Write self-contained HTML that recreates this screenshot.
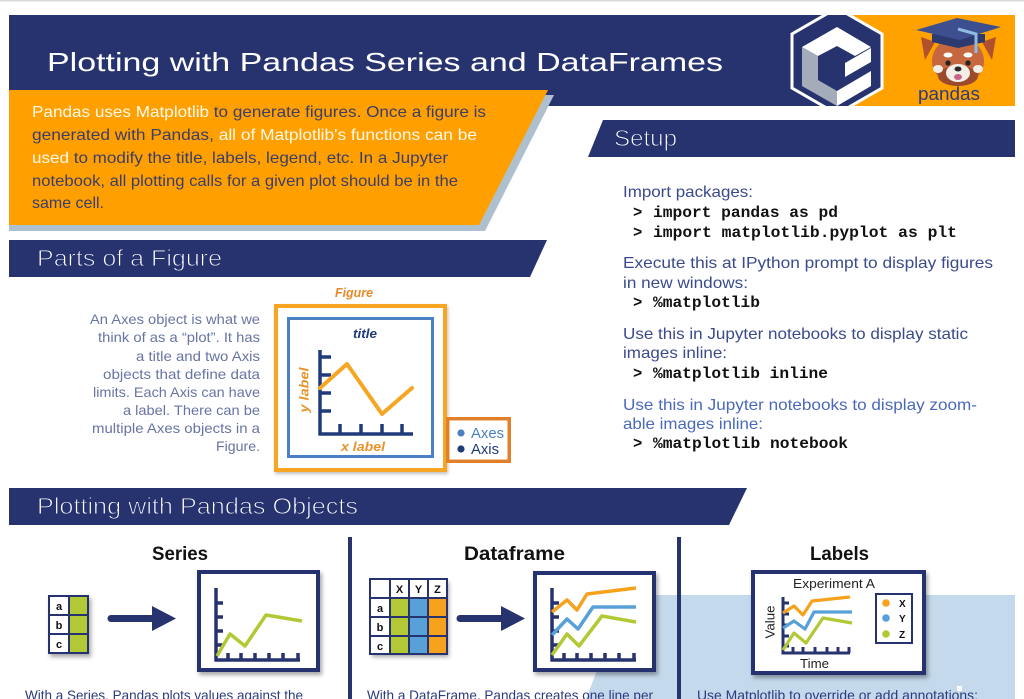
<!DOCTYPE html>
<html><head><meta charset="utf-8"><style>
html,body{margin:0;padding:0;background:#fff;}
body{width:1024px;height:699px;overflow:hidden;}
svg{display:block;}
text{font-family:"Liberation Sans",Arial,sans-serif;}
text.m{font-family:"Liberation Mono",monospace;font-weight:bold;}
</style></head><body>
<svg width="1024" height="699" viewBox="0 0 1024 699" xmlns="http://www.w3.org/2000/svg">
<defs>
<filter id="sh" x="-20%" y="-20%" width="150%" height="150%"><feDropShadow dx="2" dy="3" stdDeviation="2" flood-color="#000" flood-opacity="0.35"/></filter>
<filter id="sh2" x="-20%" y="-20%" width="150%" height="150%"><feDropShadow dx="1" dy="2" stdDeviation="1.5" flood-color="#000" flood-opacity="0.25"/></filter>
<clipPath id="bn"><rect x="9" y="15" width="1006" height="91"/></clipPath>
</defs>
<rect x="0" y="0" width="1024" height="699" fill="#fff"/>
<rect x="0" y="0" width="1024" height="1.5" fill="#d9d9d9"/>

<!-- Title banner -->
<rect x="9" y="15" width="1006" height="91" fill="#27336f"/>
<rect x="840" y="15" width="175" height="91" fill="#ffa200"/>
<g clip-path="url(#bn)">
<polygon points="837,8 882,34 882,88 837,114 792,88 792,34" fill="#27336f" stroke="#fff" stroke-width="3"/>
<polygon points="802,47 818,56 818,80 837,91 837,106 802,86" fill="#a3acb8"/>
<polygon points="802,47 837,27 871,47 855,56 837,46 818,56" fill="#fff"/>
<polygon points="845,63 871,48 871,62 845,77" fill="#fff"/>
<polygon points="837,91 871,71 871,86 837,106" fill="#fff"/>
</g>
<text x="47" y="71" font-size="26" fill="#fff" textLength="676" lengthAdjust="spacingAndGlyphs">Plotting with Pandas Series and DataFrames</text>

<!-- red panda -->
<polygon points="921,37 935,42 925,60" fill="#b0512d"/>
<polygon points="996,37 982,42 992,60" fill="#b0512d"/>
<ellipse cx="958" cy="61" rx="26" ry="24" fill="#c5683f"/>
<ellipse cx="958" cy="76" rx="20" ry="10" fill="#9c4a2c"/>
<ellipse cx="948" cy="55" rx="4.5" ry="2.5" fill="#fff"/>
<ellipse cx="968" cy="55" rx="4.5" ry="2.5" fill="#fff"/>
<ellipse cx="938" cy="69" rx="5" ry="4" fill="#f4eee6"/>
<ellipse cx="978" cy="69" rx="5" ry="4" fill="#f4eee6"/>
<ellipse cx="958" cy="73" rx="12" ry="9" fill="#f4eee6"/>
<circle cx="948" cy="63" r="2.6" fill="#222"/>
<circle cx="968" cy="63" r="2.6" fill="#222"/>
<ellipse cx="958" cy="69" rx="3.5" ry="2.5" fill="#2a2a2a"/>
<ellipse cx="958" cy="77" rx="4" ry="3" fill="#c8658a"/>
<polygon points="932,34 985,34 985,42 958,48 932,42" fill="#2c3a70"/>
<polygon points="916,30 957,18 1001,27 960,40" fill="#3d4f8e"/>
<polyline points="958,29 976,34 976,53" fill="none" stroke="#8fbbe3" stroke-width="3"/>
<text x="918" y="100" font-size="18" fill="#2d3b7a" textLength="62" lengthAdjust="spacingAndGlyphs">pandas</text>

<!-- Orange intro box -->
<polygon points="9,95 554,95 485,231 9,231" fill="#aebfcd"/>
<polygon points="9,90 548,90 479,225 9,225" fill="#ffa000"/>
<g font-size="16">
<text x="32" y="117" textLength="454" lengthAdjust="spacingAndGlyphs"><tspan fill="#fff9ec">Pandas uses Matplotlib</tspan><tspan fill="#3b3d6b"> to generate figures. Once a figure is</tspan></text>
<text x="32" y="140" textLength="445" lengthAdjust="spacingAndGlyphs"><tspan fill="#3b3d6b">generated with Pandas,</tspan><tspan fill="#fff9ec"> all of Matplotlib's functions can be</tspan></text>
<text x="32" y="163" textLength="416" lengthAdjust="spacingAndGlyphs"><tspan fill="#fff9ec">used</tspan><tspan fill="#3b3d6b"> to modify the title, labels, legend, etc. In a Jupyter</tspan></text>
<text x="32" y="186" fill="#3b3d6b" textLength="426" lengthAdjust="spacingAndGlyphs">notebook, all plotting calls for a given plot should be in the</text>
<text x="32" y="208" fill="#3b3d6b" textLength="72" lengthAdjust="spacingAndGlyphs">same cell.</text>
</g>

<!-- Setup -->
<polygon points="603,120 1015,120 1015,157 588,157" fill="#27336f"/>
<text x="614" y="146" font-size="23" fill="#fff" stroke="#27336f" stroke-width="0.9" textLength="63" lengthAdjust="spacingAndGlyphs">Setup</text>
<g font-size="16" fill="#3a4a8c">
<text x="623" y="197" textLength="130" lengthAdjust="spacingAndGlyphs">Import packages:</text>
<text x="623" y="268" textLength="370" lengthAdjust="spacingAndGlyphs">Execute this at IPython prompt to display figures</text>
<text x="623" y="288" textLength="125" lengthAdjust="spacingAndGlyphs">in new windows:</text>
<text x="623" y="339" textLength="345" lengthAdjust="spacingAndGlyphs">Use this in Jupyter notebooks to display static</text>
<text x="623" y="358" textLength="104" lengthAdjust="spacingAndGlyphs">images inline:</text>
<text x="623" y="410" fill="#4a68bc" textLength="354" lengthAdjust="spacingAndGlyphs">Use this in Jupyter notebooks to display zoom-</text>
<text x="623" y="429" fill="#4a68bc" textLength="140" lengthAdjust="spacingAndGlyphs">able images inline:</text>
</g>
<g font-size="15.5" fill="#111">
<text class="m" x="633" y="217">&gt;</text><text class="m" x="653" y="217" textLength="185" lengthAdjust="spacingAndGlyphs">import pandas as pd</text>
<text class="m" x="633" y="237">&gt;</text><text class="m" x="653" y="237" textLength="304" lengthAdjust="spacingAndGlyphs">import matplotlib.pyplot as plt</text>
<text class="m" x="633" y="307">&gt;</text><text class="m" x="653" y="307" textLength="107" lengthAdjust="spacingAndGlyphs">%matplotlib</text>
<text class="m" x="633" y="378">&gt;</text><text class="m" x="653" y="378" textLength="175" lengthAdjust="spacingAndGlyphs">%matplotlib inline</text>
<text class="m" x="633" y="448">&gt;</text><text class="m" x="653" y="448" textLength="195" lengthAdjust="spacingAndGlyphs">%matplotlib notebook</text>
</g>

<!-- Parts of a Figure -->
<polygon points="9,240 547,240 530,277 9,277" fill="#27336f"/>
<text x="37" y="266" font-size="23" fill="#fff" stroke="#27336f" stroke-width="0.9" textLength="185" lengthAdjust="spacingAndGlyphs">Parts of a Figure</text>
<g font-size="14" fill="#6874a4">
<text x="90" y="324" textLength="170" lengthAdjust="spacingAndGlyphs">An Axes object is what we</text>
<text x="98" y="342" textLength="162" lengthAdjust="spacingAndGlyphs">think of as a “plot”. It has</text>
<text x="136" y="361" textLength="124" lengthAdjust="spacingAndGlyphs">a title and two Axis</text>
<text x="103" y="379" textLength="157" lengthAdjust="spacingAndGlyphs">objects that define data</text>
<text x="93" y="397" textLength="167" lengthAdjust="spacingAndGlyphs">limits. Each Axis can have</text>
<text x="123" y="415" textLength="137" lengthAdjust="spacingAndGlyphs">a label. There can be</text>
<text x="92" y="433" textLength="168" lengthAdjust="spacingAndGlyphs">multiple Axes objects in a</text>
<text x="216" y="451" textLength="44" lengthAdjust="spacingAndGlyphs">Figure.</text>
</g>
<text x="335" y="297" font-size="12.5" font-weight="bold" font-style="italic" fill="#e8892a" textLength="38" lengthAdjust="spacingAndGlyphs">Figure</text>
<rect x="276" y="306" width="169" height="164" fill="#fff" stroke="#f6a623" stroke-width="4" filter="url(#sh2)"/>
<rect x="288.5" y="318.5" width="144" height="138" fill="#fff" stroke="#4a80c4" stroke-width="3"/>
<text x="353" y="338" font-size="13" font-weight="bold" font-style="italic" fill="#1f3b7a" textLength="24" lengthAdjust="spacingAndGlyphs">title</text>
<g stroke="#1f3b7a" stroke-width="3.5" fill="none">
<line x1="320" y1="350" x2="320" y2="435"/>
<line x1="318.5" y1="434" x2="413" y2="434"/>
<line x1="320" y1="357" x2="331" y2="357"/>
<line x1="320" y1="375" x2="331" y2="375"/>
<line x1="320" y1="393" x2="331" y2="393"/>
<line x1="320" y1="411" x2="331" y2="411"/>
<line x1="340" y1="424" x2="340" y2="434"/>
<line x1="361" y1="424" x2="361" y2="434"/>
<line x1="382" y1="424" x2="382" y2="434"/>
<line x1="402" y1="424" x2="402" y2="434"/>
</g>
<polyline points="320,388 347,364 382,414 412,388" fill="none" stroke="#f6a623" stroke-width="4" stroke-linejoin="round" stroke-linecap="round"/>
<text transform="translate(308.5,390) rotate(-90)" x="0" y="0" text-anchor="middle" font-size="13" font-weight="bold" font-style="italic" fill="#e8932a" textLength="45" lengthAdjust="spacingAndGlyphs">y label</text>
<text x="341" y="451" font-size="13" font-weight="bold" font-style="italic" fill="#e8932a" textLength="44" lengthAdjust="spacingAndGlyphs">x label</text>
<rect x="447.75" y="418.75" width="61.5" height="42.5" fill="#fff" stroke="#e0802c" stroke-width="3.5"/>
<circle cx="461" cy="433" r="3.6" fill="#4a80c4"/>
<circle cx="461" cy="449" r="3.6" fill="#1f3b7a"/>
<text x="471" y="438" font-size="15" fill="#4a80c4" textLength="33" lengthAdjust="spacingAndGlyphs">Axes</text>
<text x="471" y="454" font-size="15" fill="#1f3b7a" textLength="28" lengthAdjust="spacingAndGlyphs">Axis</text>

<!-- Plotting with Pandas Objects -->
<polygon points="9,488 747,488 729,525 9,525" fill="#27336f"/>
<text x="37" y="514" font-size="23" fill="#fff" stroke="#27336f" stroke-width="0.9" textLength="321" lengthAdjust="spacingAndGlyphs">Plotting with Pandas Objects</text>

<!-- light blue background -->
<polygon points="626,595 1015,595 1015,699 586,699" fill="#c4d9ec"/>

<!-- dividers -->
<rect x="348" y="537" width="4" height="162" fill="#27336f"/>
<rect x="677" y="537" width="4" height="162" fill="#27336f"/>

<!-- section titles -->
<g font-size="19" font-weight="bold" fill="#111">
<text x="152" y="560" textLength="56" lengthAdjust="spacingAndGlyphs">Series</text>
<text x="464" y="560" textLength="101" lengthAdjust="spacingAndGlyphs">Dataframe</text>
<text x="810" y="560" textLength="59" lengthAdjust="spacingAndGlyphs">Labels</text>
</g>

<!-- Series table -->
<g filter="url(#sh)">
<rect x="49" y="596" width="39" height="57" fill="#fff"/>
<rect x="69" y="596" width="19" height="57" fill="#b2c935"/>
<rect x="49" y="596" width="39" height="57" fill="none" stroke="#27336f" stroke-width="2"/>
</g>
<g stroke="#27336f" stroke-width="2"><line x1="69" y1="596" x2="69" y2="653"/><line x1="49" y1="615" x2="88" y2="615"/><line x1="49" y1="634" x2="88" y2="634"/></g>
<g font-size="11" font-weight="bold" fill="#111" text-anchor="middle">
<text x="59" y="610">a</text><text x="59" y="629">b</text><text x="59" y="648">c</text>
</g>
<line x1="111" y1="618.5" x2="155" y2="618.5" stroke="#27336f" stroke-width="7" stroke-linecap="round"/>
<polygon points="152,606 176,618.5 152,631" fill="#27336f"/>

<!-- Series chart -->
<rect x="199" y="572" width="119" height="98" fill="#fff" stroke="#27336f" stroke-width="4" filter="url(#sh)"/>
<g stroke="#27336f" stroke-width="3.5" fill="none">
<line x1="216" y1="588" x2="216" y2="661"/><line x1="214.5" y1="660" x2="300" y2="660"/>
<line x1="216" y1="603" x2="223" y2="603"/><line x1="216" y1="617" x2="223" y2="617"/><line x1="216" y1="631" x2="223" y2="631"/><line x1="216" y1="645" x2="223" y2="645"/>
<line x1="228" y1="653" x2="228" y2="660"/><line x1="241" y1="653" x2="241" y2="660"/><line x1="255" y1="653" x2="255" y2="660"/><line x1="269" y1="653" x2="269" y2="660"/><line x1="283" y1="653" x2="283" y2="660"/><line x1="298" y1="653" x2="298" y2="660"/>
</g>
<polyline points="217,656 230,634 245,646 266,615 302,621" fill="none" stroke="#b2c935" stroke-width="3.5" stroke-linejoin="round"/>

<!-- DataFrame table -->
<g filter="url(#sh)">
<rect x="370" y="579" width="77" height="75" fill="#fff"/>
</g>
<rect x="390" y="598" width="19" height="56" fill="#b2c935"/>
<rect x="409" y="598" width="19" height="56" fill="#58a0d8"/>
<rect x="428" y="598" width="19" height="56" fill="#f6a21d"/>
<g stroke="#27336f" stroke-width="2" fill="none">
<rect x="370" y="579" width="77" height="75"/>
<line x1="390" y1="579" x2="390" y2="654"/><line x1="409" y1="579" x2="409" y2="654"/><line x1="428" y1="579" x2="428" y2="654"/>
<line x1="370" y1="598" x2="447" y2="598"/><line x1="370" y1="617" x2="447" y2="617"/><line x1="370" y1="636" x2="447" y2="636"/>
</g>
<g font-size="11" font-weight="bold" fill="#111" text-anchor="middle">
<text x="399.5" y="593">X</text><text x="418.5" y="593">Y</text><text x="437.5" y="593">Z</text>
<text x="380" y="612">a</text><text x="380" y="631">b</text><text x="380" y="650">c</text>
</g>
<line x1="460" y1="618.5" x2="504" y2="618.5" stroke="#27336f" stroke-width="7" stroke-linecap="round"/>
<polygon points="501,606 525,618.5 501,631" fill="#27336f"/>

<!-- DataFrame chart -->
<rect x="535" y="573" width="119" height="97" fill="#fff" stroke="#27336f" stroke-width="4" filter="url(#sh)"/>
<g stroke="#27336f" stroke-width="3.5" fill="none">
<line x1="552" y1="588" x2="552" y2="661"/><line x1="550.5" y1="660" x2="636" y2="660"/>
<line x1="552" y1="603" x2="559" y2="603"/><line x1="552" y1="617" x2="559" y2="617"/><line x1="552" y1="631" x2="559" y2="631"/><line x1="552" y1="645" x2="559" y2="645"/>
<line x1="564" y1="653" x2="564" y2="660"/><line x1="577" y1="653" x2="577" y2="660"/><line x1="591" y1="653" x2="591" y2="660"/><line x1="605" y1="653" x2="605" y2="660"/><line x1="619" y1="653" x2="619" y2="660"/><line x1="634" y1="653" x2="634" y2="660"/>
</g>
<polyline points="552,612 567,600 577,610 587,594 636,588" fill="none" stroke="#f6a21d" stroke-width="3.5" stroke-linejoin="round"/>
<polyline points="552,635 567,619 578,629 593,607 636,607" fill="none" stroke="#58a0d8" stroke-width="3.5" stroke-linejoin="round"/>
<polyline points="552,655 567,634 579,646 602,616 636,622" fill="none" stroke="#b2c935" stroke-width="3.5" stroke-linejoin="round"/>

<!-- Labels chart -->
<rect x="753" y="572" width="171" height="101" fill="#fff" stroke="#27336f" stroke-width="4" filter="url(#sh)"/>
<text x="793" y="588" font-size="13" fill="#222" textLength="82" lengthAdjust="spacingAndGlyphs">Experiment A</text>
<g stroke="#27336f" stroke-width="3" fill="none">
<line x1="783" y1="597" x2="783" y2="654"/><line x1="781.5" y1="653" x2="850" y2="653"/>
<line x1="783" y1="603" x2="789" y2="603"/><line x1="783" y1="614" x2="789" y2="614"/><line x1="783" y1="625" x2="789" y2="625"/><line x1="783" y1="636" x2="789" y2="636"/><line x1="783" y1="646" x2="789" y2="646"/>
<line x1="793" y1="647" x2="793" y2="653"/><line x1="803" y1="647" x2="803" y2="653"/><line x1="815" y1="647" x2="815" y2="653"/><line x1="827" y1="647" x2="827" y2="653"/><line x1="838" y1="647" x2="838" y2="653"/><line x1="849" y1="647" x2="849" y2="653"/>
</g>
<polyline points="783,613 794,606 803,615 812,601 850,597" fill="none" stroke="#f6a21d" stroke-width="3.2" stroke-linejoin="round"/>
<polyline points="783,628 794,621 805,629 814,612 852,612" fill="none" stroke="#58a0d8" stroke-width="3.2" stroke-linejoin="round"/>
<polyline points="783,650 794,633 806,643 823,618 852,623" fill="none" stroke="#b2c935" stroke-width="3.2" stroke-linejoin="round"/>
<text transform="translate(774.5,622) rotate(-90)" x="0" y="0" text-anchor="middle" font-size="13" fill="#222" textLength="33" lengthAdjust="spacingAndGlyphs">Value</text>
<text x="800" y="668" font-size="13" fill="#222" textLength="29" lengthAdjust="spacingAndGlyphs">Time</text>
<rect x="876" y="594" width="36" height="49" fill="#fff" stroke="#27336f" stroke-width="2"/>
<circle cx="886" cy="603" r="3.8" fill="#f6a21d"/>
<circle cx="886" cy="618" r="3.8" fill="#58a0d8"/>
<circle cx="886" cy="634" r="3.8" fill="#b2c935"/>
<g font-size="10" font-weight="bold" fill="#111">
<text x="899" y="607">X</text><text x="899" y="622">Y</text><text x="899" y="638">Z</text>
</g>

<!-- bottom cut-off text -->
<g font-size="14" fill="#2a3c7c">
<text x="25" y="700" textLength="278" lengthAdjust="spacingAndGlyphs">With a Series, Pandas plots values against the</text>
<text x="367" y="700" textLength="286" lengthAdjust="spacingAndGlyphs">With a DataFrame, Pandas creates one line per</text>
<text x="697" y="700" textLength="281" lengthAdjust="spacingAndGlyphs">Use Matplotlib to override or add annotations:</text>
</g>
<rect x="957" y="686" width="5" height="5" fill="#fff"/>
</svg>
</body></html>
